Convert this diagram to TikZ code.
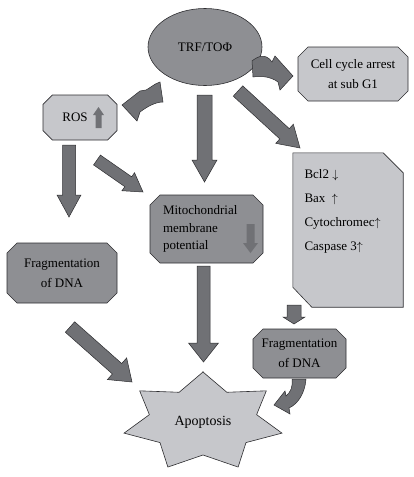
\documentclass[tikz,border=0pt]{standalone}
\usepackage{fontspec}
\setmainfont{Liberation Serif}
\usetikzlibrary{shapes.geometric,shapes.misc}
\usetikzlibrary{calc,backgrounds}
\usetikzlibrary{positioning}
\definecolor{boxlight}{RGB}{198,199,203}
\definecolor{boxdark}{RGB}{142,143,147}
\definecolor{arrowgray}{RGB}{112,113,117}
\definecolor{edgegray}{RGB}{45,45,48}
\tikzset{
  box/.style={chamfered rectangle, chamfered rectangle xsep=5pt,
    chamfered rectangle ysep=5pt, draw=edgegray, line width=0.6pt,
    fill=boxlight, inner sep=0pt, align=center,
    font=\fontsize{13}{20}\selectfont},
  dimbox/.style={box, fill=boxdark},
  oval/.style={ellipse, draw=edgegray, line width=0.6pt, fill=boxdark,
    inner sep=0pt, font=\fontsize{13}{16}\selectfont},
  fat/.style={fill=arrowgray, draw=edgegray, line width=0.5pt},
  flat/.style={fill=arrowgray},
}
% tail, tip, half shaft, half head, head length
\newcommand\blockarrow[6][fat]{%
  \coordinate (hb) at ($(#3)!#6!(#2)$);
  \path[#1] ($(#2)!#4!90:(#3)$) -- ($(hb)!#4!90:(#3)$) -- ($(hb)!#5!90:(#3)$)
    -- (#3) -- ($(hb)!#5!-90:(#3)$) -- ($(hb)!#4!-90:(#3)$)
    -- ($(#2)!#4!-90:(#3)$) -- cycle;}

\begin{document}
\begin{tikzpicture}[x=1pt,y=-1pt]
\useasboundingbox (0,0) rectangle (413,477);

\node[oval, minimum width=114pt, minimum height=77pt] (trf) at (205,47) {TRF/TOΦ};
\node[box, minimum width=110pt, minimum height=54pt] (cell) at (353,74) {Cell cycle arrest\\at sub G1};
\node[box, minimum width=74pt, minimum height=45pt] (ros) at (80,117.5) {ROS\hspace{10pt}};
\node[rectangle, inner sep=0pt, minimum width=110pt, minimum height=154pt] (bcl) at (348,230) {};
\filldraw[fill=boxlight, draw=edgegray, line width=0.6pt] (bcl.north west)
  -- ($(bcl.north east)+(-20,0)$) -- ($(bcl.north east)+(0,20)$) -- (bcl.south east)
  -- ($(bcl.south west)+(19,0)$) -- ($(bcl.south west)+(0,-20)$) -- cycle;
\node[anchor=west, align=left, font=\fontsize{13}{24}\selectfont] (bcltxt) at (301,211)
  {Bcl2 $\downarrow$\\Bax \ $\uparrow$\\Cytochromec$\uparrow$\\Caspase 3$\uparrow$};
\node[dimbox, align=left, text width=87pt, inner xsep=8pt, minimum height=68pt,
  font=\fontsize{13}{17.5}\selectfont] (mito) at (206.5,229) {Mitochondrial\\membrane\\potential};
\node[dimbox, minimum width=110pt, minimum height=60pt] (fragl) at (62,273) {Fragmentation\\of DNA};
\node[dimbox, minimum width=93pt, minimum height=49pt] (fragr) at (299.5,353.5) {Fragmentation\\of DNA};

\filldraw[fill=boxlight, draw=edgegray, line width=0.6pt] (203,372)
  \foreach \k in {0,...,6}{
    -- ({203+55*cos(115.71+51.43*\k)},{422-33*sin(115.71+51.43*\k)})
    -- ({203+81*cos(90+51.43*(\k+1))},{422-50*sin(90+51.43*(\k+1))})} -- cycle;
\node[font=\fontsize{14}{16}\selectfont] (apo) at (203,422) {Apoptosis};

% small arrows inside the boxes
\blockarrow[flat]{98.5,128}{98.5,107}{3pt}{5.5pt}{8pt}
\blockarrow[flat]{250.5,224}{250.5,253}{4pt}{7.5pt}{10pt}

\begin{scope}[on background layer]
\coordinate (a1) at (204.5,95);  \coordinate (b1) at (204.5,182);
\coordinate (a2) at (238,91);    \coordinate (b2) at (300,148);
\coordinate (a3) at (69,145);    \coordinate (b3) at (69,217);
\coordinate (a4) at (97,160);    \coordinate (b4) at (143,192);
\coordinate (a5) at (70,327);    \coordinate (b5) at (132,382);
\coordinate (a6) at (203.5,266); \coordinate (b6) at (203.5,362);
\coordinate (a7) at (294,305);   \coordinate (b7) at (294,324);
\blockarrow{a1}{b1}{7.5pt}{12.5pt}{22pt}
\blockarrow{a2}{b2}{7pt}{13pt}{21pt}
\blockarrow{a3}{b3}{6.5pt}{12pt}{22pt}
\blockarrow{a4}{b4}{6pt}{11pt}{18pt}
\blockarrow{a5}{b5}{7pt}{14.5pt}{20pt}
\blockarrow{a6}{b6}{6.5pt}{15pt}{19pt}
\blockarrow{a7}{b7}{7pt}{11pt}{7pt}
\end{scope}

% bent arrows
\draw[fat] (252,61) .. controls (258,56) and (266,53) .. (272,62) -- (275,56)
  -- (293,76) -- (280,90) -- (278,82) .. controls (270,76) and (260,76) .. (253,77) -- cycle;
\draw[fat] (160,82) .. controls (154,84) and (150,88) .. (146,90) -- (140,91)
  -- (122,105) -- (137,121) -- (140,112) .. controls (148,106) and (156,102) .. (163,102) -- cycle;
\draw[fat] (292,379) -- (306,379) .. controls (305,393) and (298,404) .. (289,408)
  -- (290,414) -- (274,405) -- (285,391) -- (286,396) .. controls (291,392) and (293,386) .. (292,379) -- cycle;
\end{tikzpicture}
\end{document}
